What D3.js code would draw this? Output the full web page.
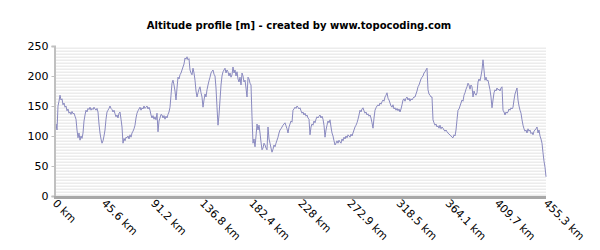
<!DOCTYPE html>
<html>
<head>
<meta charset="utf-8">
<script src="https://cdn.jsdelivr.net/npm/d3@7"></script>
<style>
  body { margin: 0; background: #fff; }
  svg { display: block; font-family: "DejaVu Sans", sans-serif; }
</style>
</head>
<body>
<svg id="chart" width="600" height="250"></svg>
<script>
// chart data
const chartTitle = "Altitude profile [m] - created by www.topocoding.com";
const totalKm = 455.3;
const xTickLabels = ["0 km", "45.6 km", "91.2 km", "136.8 km", "182.4 km", "228 km",
  "272.9 km", "318.5 km", "364.1 km", "409.7 km", "455.3 km"];
const yTicks = [0, 50, 100, 150, 200, 250];
// altitude samples [m], evenly spaced along the route
const altM = [
  102,120,110,150,158,168,160,162,152,155,148,150,142,145,138,140,136,141,137,138,
  133,128,110,97,105,93,100,96,105,125,135,143,140,146,144,148,143,146,144,148,
  145,143,146,140,120,105,95,88,92,100,110,128,140,143,146,150,146,144,140,143,
  137,132,135,130,138,140,128,115,88,96,92,98,97,100,95,102,98,105,108,112,
  118,130,138,142,145,148,143,147,145,150,146,148,150,145,148,143,135,130,134,128,
  132,127,138,107,125,130,136,135,130,134,128,133,130,136,140,148,168,188,193,185,
  175,160,180,198,195,202,205,210,215,220,230,228,232,227,229,210,205,202,213,205,
  193,175,165,172,178,182,172,165,148,160,170,165,177,185,192,198,205,208,210,203,
  200,180,148,118,135,160,185,200,207,210,213,205,210,207,200,205,198,202,215,205,
  210,200,207,195,190,198,185,205,200,190,193,180,165,198,195,188,185,132,88,95,
  82,100,120,110,118,105,90,77,80,88,85,80,77,115,95,88,80,73,78,85,
  82,88,93,98,105,110,112,115,118,120,122,117,112,105,115,120,125,123,143,145,
  148,146,150,148,145,147,142,138,140,135,138,133,135,130,128,102,115,120,118,125,
  122,128,132,130,133,135,130,133,128,118,98,110,118,125,122,127,115,105,100,92,
  85,88,92,88,93,90,88,95,92,98,95,100,97,102,100,98,103,100,105,110,
  115,118,122,128,135,143,140,145,147,142,138,140,135,137,133,135,130,122,113,130,
  143,147,150,152,150,155,153,157,160,158,165,168,172,163,160,155,150,148,152,145,
  147,143,146,142,145,140,145,152,160,162,158,163,165,160,163,158,162,160,163,165,
  165,170,175,182,185,190,195,198,200,205,207,210,213,177,170,168,165,165,127,122,
  118,120,115,117,113,118,112,115,113,110,108,110,107,105,103,102,100,98,97,102,
  100,110,127,143,145,150,155,160,158,168,172,178,182,188,185,178,185,182,165,175,
  170,168,172,190,195,192,200,210,227,210,193,198,192,193,185,177,165,147,160,172,
  177,175,180,177,178,175,180,182,143,140,135,140,138,140,145,143,147,145,148,160,
  170,175,180,160,150,143,138,127,118,112,108,110,105,112,108,110,104,106,102,108,
  110,112,115,105,110,100,95,88,72,58,48,32
];

const svg = d3.select("#chart");
const margin = { left: 55, right: 54, top: 46, bottom: 54 };
const W = 600, H = 250;

const x = d3.scaleLinear().domain([0, totalKm]).range([margin.left, W - margin.right]);
const y = d3.scaleLinear().domain([0, 250]).range([H - margin.bottom, margin.top]);

// title
svg.append("text")
  .attr("x", 299).attr("y", 29)
  .attr("text-anchor", "middle")
  .attr("font-size", 10).attr("font-weight", "bold")
  .text(chartTitle);

// striped plot background
const bands = d3.range(0, 250, 5);
svg.append("g").selectAll("rect")
  .data(bands)
  .join("rect")
  .attr("x", x(0)).attr("width", x(totalKm) - x(0))
  .attr("y", d => y(d + 2.5)).attr("height", d => y(d) - y(d + 2.5))
  .attr("fill", "#ececec");

// profile line
const line = d3.line()
  .x((d, i) => x(i / (altM.length - 1) * totalKm))
  .y(d => y(d));
svg.append("path")
  .datum(altM)
  .attr("d", line)
  .attr("fill", "none")
  .attr("stroke", "#8a8ac0")
  .attr("stroke-width", 1);

// y axis
const yAxis = svg.append("g")
  .attr("transform", `translate(${margin.left - 0.5},0)`)
  .call(d3.axisLeft(y).tickValues(yTicks).tickSize(3).tickPadding(3));
yAxis.select(".domain").attr("stroke", "#c0c0c0").attr("stroke-width", 2);
yAxis.selectAll(".tick line").attr("stroke", "#c0c0c0");
yAxis.selectAll("text").attr("font-size", 11).attr("fill", "#000")
  .attr("font-family", "DejaVu Sans, sans-serif");

// bottom bar
svg.append("rect")
  .attr("x", margin.left - 1).attr("y", y(0))
  .attr("width", x(totalKm) - margin.left + 1).attr("height", 3)
  .attr("fill", "#a8a8a8");

// x labels
const xTickKm = xTickLabels.map((t, i) => i * totalKm / (xTickLabels.length - 1));
svg.append("g").selectAll("text")
  .data(xTickLabels)
  .join("text")
  .attr("transform", (d, i) => `translate(${x(xTickKm[i]) - 3},${y(0) + 8}) rotate(45)`)
  .attr("font-size", 11)
  .attr("fill", "#000")
  .text(d => d);
</script>
</body>
</html>
